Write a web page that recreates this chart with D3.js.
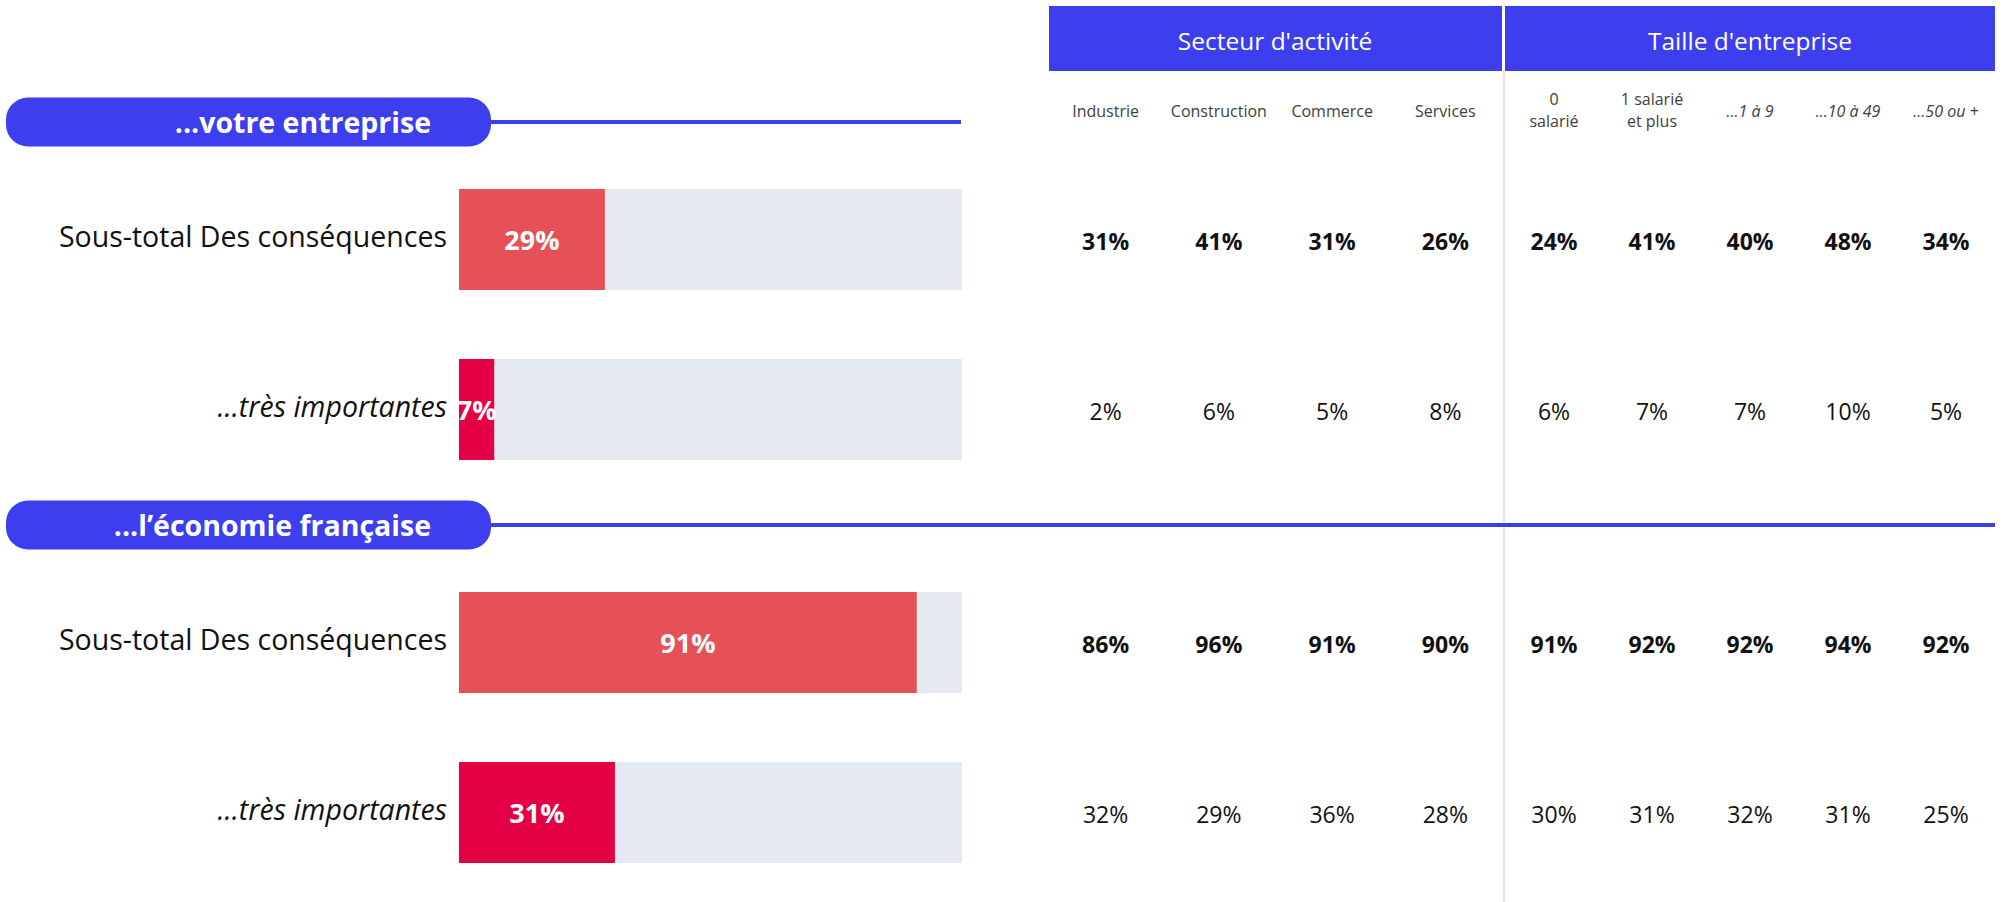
<!DOCTYPE html>
<html>
<head>
<meta charset="utf-8">
<script src="https://cdn.jsdelivr.net/npm/d3@7"></script>
<style>
  body { margin: 0; background: #fff; }
  svg { display: block; font-family: "Open Sans", "Noto Sans", sans-serif; }
</style>
</head>
<body>
<figure id="chart" style="margin:0"></figure>
<script>
// data
const groups = ["...votre entreprise", "...l\u2019économie française"];
const rowLabels = ["Sous-total Des conséquences", "...très importantes"];
const totals = [[29, 7], [91, 31]];
const secteurs = ["Industrie", "Construction", "Commerce", "Services"];
const tailles = [["0", "salarié"], ["1 salarié", "et plus"], ["...1 à 9"], ["...10 à 49"], ["...50 ou +"]];
const taillesItalic = [false, false, true, true, true];
const secteurValues = [
  [[31, 41, 31, 26], [2, 6, 5, 8]],
  [[86, 96, 91, 90], [32, 29, 36, 28]]
];
const tailleValues = [
  [[24, 41, 40, 48, 34], [6, 7, 7, 10, 5]],
  [[91, 92, 92, 94, 92], [30, 31, 32, 31, 25]]
];

const width = 2004, height = 902;
const blue = '#3d3fef';
const barColors = ['#e65158', '#e30045'];
const trackColor = '#e5e9f1';

const svg = d3.select('#chart').append('svg')
  .attr('width', width)
  .attr('height', height);

const x = d3.scaleLinear().domain([0, 100]).range([459, 962]);
const xSect = d3.scaleBand().domain(secteurs).range([1049, 1502]);
const xTaille = d3.scaleBand().domain(d3.range(tailles.length)).range([1505, 1995]);

const groupTop = [122, 525];   // pill centre lines
const rowOffset = [67, 237];   // bar top relative to pill centre
const barH = 101;

// header boxes
svg.append('rect').attr('x', 1049).attr('y', 6).attr('width', 453).attr('height', 65).attr('fill', blue);
svg.append('rect').attr('x', 1505).attr('y', 6).attr('width', 490).attr('height', 65).attr('fill', blue);
svg.append('text').attr('x', 1275).attr('y', 40).attr('text-anchor', 'middle').attr('dominant-baseline', 'central')
  .attr('fill', '#fff').attr('font-size', 24.5).text("Secteur d'activité");
svg.append('text').attr('x', 1750).attr('y', 40).attr('text-anchor', 'middle').attr('dominant-baseline', 'central')
  .attr('fill', '#fff').attr('font-size', 24.5).text("Taille d'entreprise");

// separator
svg.append('line').attr('x1', 1504).attr('x2', 1504).attr('y1', 71).attr('y2', height)
  .attr('stroke', '#e3e3e3').attr('stroke-width', 2);

// column labels
svg.selectAll('.sect-label').data(secteurs).enter().append('text')
  .attr('class', 'sect-label')
  .attr('x', d => xSect(d) + xSect.bandwidth() / 2)
  .attr('y', 111)
  .attr('text-anchor', 'middle').attr('dominant-baseline', 'central')
  .attr('font-size', 16).attr('fill', '#404040')
  .text(d => d);

tailles.forEach(function (lines, i) {
  const t = svg.append('text')
    .attr('x', xTaille(i) + xTaille.bandwidth() / 2)
    .attr('text-anchor', 'middle')
    .attr('font-size', 16).attr('fill', '#404040')
    .attr('font-style', taillesItalic[i] ? 'italic' : 'normal');
  lines.forEach(function (l, j) {
    t.append('tspan')
      .attr('x', xTaille(i) + xTaille.bandwidth() / 2)
      .attr('y', lines.length === 1 ? 117 : 105 + j * 22)
      .text(l);
  });
});

groups.forEach(function (g, gi) {
  const cy = groupTop[gi];
  // rule line
  svg.append('line')
    .attr('x1', 480).attr('x2', gi === 0 ? 961 : 1995)
    .attr('y1', cy).attr('y2', cy)
    .attr('stroke', blue).attr('stroke-width', 4);
  // pill
  svg.append('rect')
    .attr('x', 6).attr('y', cy - 24.5).attr('width', 485).attr('height', 49)
    .attr('rx', 22).attr('fill', blue);
  svg.append('text')
    .attr('x', 431).attr('y', cy).attr('text-anchor', 'end').attr('dominant-baseline', 'central')
    .attr('fill', '#fff').attr('font-weight', 700).attr('font-size', 28.5)
    .text(g);

  rowLabels.forEach(function (label, ri) {
    const top = cy + rowOffset[ri];
    const mid = top + barH / 2;
    const v = totals[gi][ri];
    const bold = ri === 0;

    svg.append('rect').attr('x', x(0)).attr('y', top).attr('width', x(100) - x(0)).attr('height', barH)
      .attr('fill', trackColor);
    svg.append('rect').attr('x', x(0)).attr('y', top).attr('width', x(v) - x(0)).attr('height', barH)
      .attr('fill', barColors[ri]);
    svg.append('text')
      .attr('x', (x(0) + x(v)) / 2).attr('y', mid)
      .attr('text-anchor', 'middle').attr('dominant-baseline', 'central')
      .attr('fill', '#fff').attr('font-weight', 700).attr('font-size', 27)
      .text(v + '%');

    svg.append('text')
      .attr('x', 447).attr('y', mid - 4)
      .attr('text-anchor', 'end').attr('dominant-baseline', 'central')
      .attr('font-size', 28.5).attr('fill', '#111')
      .attr('font-style', ri === 1 ? 'italic' : 'normal')
      .text(label);

    svg.selectAll(null).data(secteurValues[gi][ri]).enter().append('text')
      .attr('x', (d, i) => xSect(secteurs[i]) + xSect.bandwidth() / 2)
      .attr('y', mid + 1)
      .attr('text-anchor', 'middle').attr('dominant-baseline', 'central')
      .attr('font-size', 23).attr('font-weight', bold ? 700 : 400).attr('fill', '#111')
      .text(d => d + '%');

    svg.selectAll(null).data(tailleValues[gi][ri]).enter().append('text')
      .attr('x', (d, i) => xTaille(i) + xTaille.bandwidth() / 2)
      .attr('y', mid + 1)
      .attr('text-anchor', 'middle').attr('dominant-baseline', 'central')
      .attr('font-size', 23).attr('font-weight', bold ? 700 : 400).attr('fill', '#111')
      .text(d => d + '%');
  });
});
</script>
</body>
</html>
